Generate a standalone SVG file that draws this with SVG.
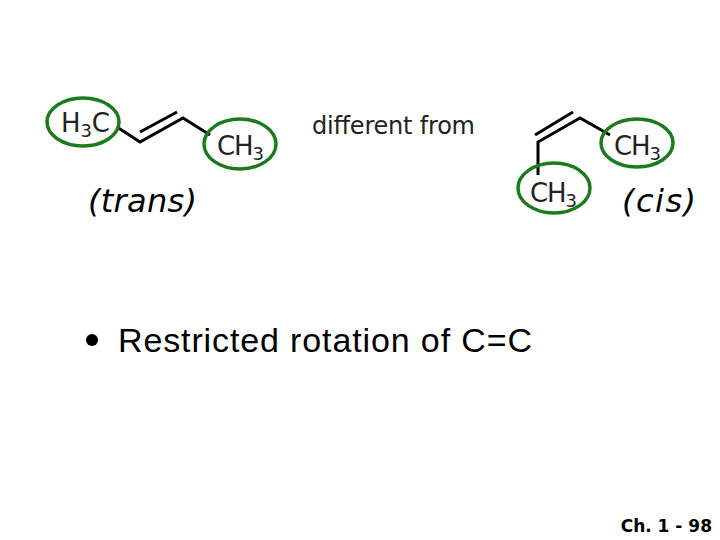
<svg xmlns="http://www.w3.org/2000/svg" width="720" height="540" viewBox="0 0 720 540">
<style>
.b{stroke:#000;stroke-width:3;fill:none}
.r{stroke:#1e7a1e;stroke-width:3.5;fill:none}
.c{font-family:"DejaVu Sans",sans-serif;font-size:26px;fill:#222}
.s{font-size:18px}
.i{font-family:"DejaVu Sans",sans-serif;font-style:italic;font-size:32px;fill:#000}
</style>
<rect width="720" height="540" fill="#fff"/>
<g id="bonds">
<polyline class="b" points="117,127 140,142 183,118 210,135"/>
<line class="b" x1="140" y1="132" x2="177" y2="112"/>
<polyline class="b" points="538,175 538,142 580,118 610,135"/>
<line class="b" x1="535" y1="135" x2="573" y2="112"/>
</g>
<g id="trans-left"><ellipse class="r" cx="83" cy="122" rx="36" ry="24"/><text class="c" x="61" y="132" textLength="49">H<tspan class="s" dy="5">3</tspan><tspan dy="-5">C</tspan></text></g>
<g id="trans-right"><ellipse class="r" cx="240" cy="144" rx="36" ry="25"/><text class="c" x="217" y="155" textLength="47">CH<tspan class="s" dy="5">3</tspan></text></g>
<g id="cis-right"><ellipse class="r" cx="637" cy="143" rx="36" ry="24"/><text class="c" x="614" y="155" textLength="47">CH<tspan class="s" dy="5">3</tspan></text></g>
<g id="cis-bottom"><ellipse class="r" cx="554" cy="188" rx="36" ry="25"/><text class="c" x="530" y="202" textLength="47">CH<tspan class="s" dy="5">3</tspan></text></g>
<text class="c" x="312" y="134" textLength="163" style="font-size:24px">different from</text>
<text class="i" x="88" y="212" textLength="109">(trans)</text>
<text class="i" x="622" y="212" textLength="74">(cis)</text>
<circle cx="92" cy="340" r="6" fill="#000"/>
<text x="118" y="352" textLength="414" style="font-family:'Liberation Sans',sans-serif;font-size:34px">Restricted rotation of C=C</text>
<text x="712" y="532" text-anchor="end" style="font-family:'DejaVu Sans',sans-serif;font-weight:bold;font-size:17px">Ch. 1 - 98</text>
</svg>
